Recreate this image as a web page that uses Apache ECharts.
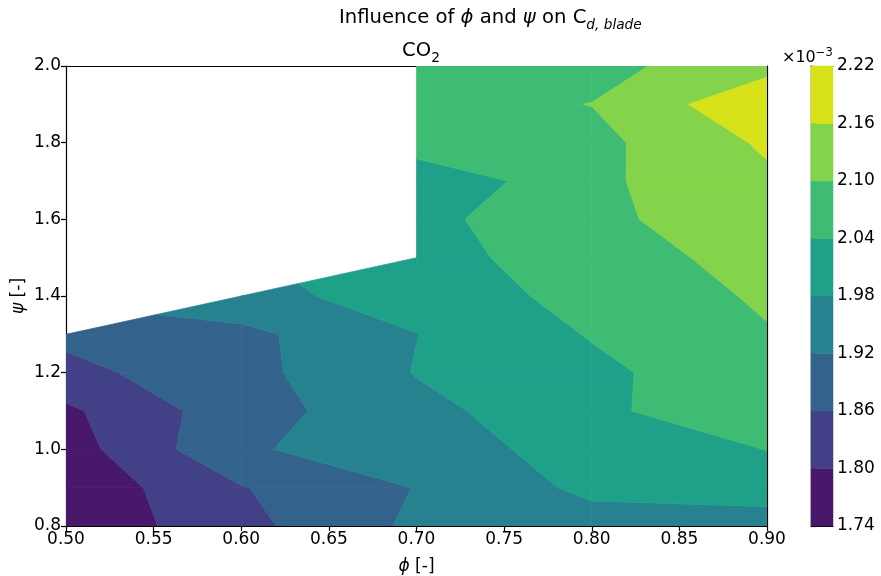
<!DOCTYPE html>
<html>
<head>
<meta charset="utf-8">
<script src="https://cdn.jsdelivr.net/npm/echarts@6/dist/echarts.min.js"></script>
<style>
  html, body { margin: 0; padding: 0; background: #ffffff; }
  #chart { width: 881px; height: 576px; }
</style>
</head>
<body>
<div id="chart"></div>
<script>
// Flow coefficient ϕ (columns) and loading coefficient ψ (rows) of the design grid
const phiValues = [0.5, 0.6, 0.7, 0.8, 0.9];
const psiValues = [0.8, 0.9, 1.0, 1.1, 1.2, 1.3, 1.4, 1.5, 1.6, 1.7, 1.8, 1.9, 2.0];

// Blade dissipation coefficient C_d,blade in units of 1e-3, one row per ψ; null = infeasible design
const cdRow080 = [1.754, 1.842, 1.932, 1.954, 1.950];
const cdRow090 = [1.755, 1.857, 1.922, 1.994, 2.010];
const cdRow100 = [1.772, 1.912, 1.955, 2.001, 2.041];
const cdRow110 = [1.789, 1.895, 1.961, 2.027, 2.084];
const cdRow120 = [1.843, 1.900, 1.983, 2.026, 2.084];
const cdRow130 = [1.874, 1.904, 1.979, 2.044, 2.096];
const cdRow140 = [null, 1.963, 2.003, 2.060, 2.108];
const cdRow150 = [null, null, 2.015, 2.074, 2.120];
const cdRow160 = [null, null, 2.022, 2.087, 2.135];
const cdRow170 = [null, null, 1.988, 2.088, 2.149];
const cdRow180 = [null, null, 2.078, 2.083, 2.169];
const cdRow190 = [null, null, 2.080, 2.101, 2.208];
const cdRow200 = [null, null, 2.070, 2.081, 2.140];
const cdRows = [cdRow080, cdRow090, cdRow100, cdRow110, cdRow120, cdRow130, cdRow140,
                cdRow150, cdRow160, cdRow170, cdRow180, cdRow190, cdRow200];

// Filled contour levels (colorbar ticks)
const contourLevels = [1.74, 1.80, 1.86, 1.92, 1.98, 2.04, 2.10, 2.16, 2.22];
// viridis sampled at the middle of each band
const bandColors = ['#48186a', '#424086', '#33638d', '#26828e', '#1fa088', '#3fbc73', '#84d44b', '#d8e219'];

const FONT = 'DejaVu Sans';
const TICK_SIZE = 17;
const TITLE_SIZE = 19.6;
const SUB_SIZE = 13.7;

// Clip one cell (quad or corner triangle) to the band [lo, hi] by walking its perimeter
function bandPolygon(corners, lo, hi) {
  const out = [];
  const n = corners.length;
  for (let k = 0; k < n; k++) {
    const a = corners[k], b = corners[(k + 1) % n];
    if (a.v >= lo && a.v <= hi) out.push([a.x, a.y]);
    const cuts = [];
    [lo, hi].forEach(L => {
      if ((a.v - L) * (b.v - L) < 0) cuts.push((L - a.v) / (b.v - a.v));
    });
    cuts.sort((p, q) => p - q);
    cuts.forEach(t => out.push([a.x + t * (b.x - a.x), a.y + t * (b.y - a.y)]));
  }
  return out.length >= 3 ? out : null;
}

// Build contour polygons in data space (corner masking: cells with 3 valid corners give a triangle)
const polygons = [];
for (let j = 0; j < psiValues.length - 1; j++) {
  for (let i = 0; i < phiValues.length - 1; i++) {
    const quad = [
      { x: phiValues[i],     y: psiValues[j],     v: cdRows[j][i] },
      { x: phiValues[i + 1], y: psiValues[j],     v: cdRows[j][i + 1] },
      { x: phiValues[i + 1], y: psiValues[j + 1], v: cdRows[j + 1][i + 1] },
      { x: phiValues[i],     y: psiValues[j + 1], v: cdRows[j + 1][i] }
    ];
    const valid = quad.filter(c => c.v !== null);
    if (valid.length < 3) continue;
    for (let b = 0; b < contourLevels.length - 1; b++) {
      const pts = bandPolygon(valid, contourLevels[b], contourLevels[b + 1]);
      if (pts) polygons.push({ band: b, pts: pts });
    }
  }
}
const polygonData = polygons.map((p, idx) => {
  const cx = p.pts.reduce((s, q) => s + q[0], 0) / p.pts.length;
  const cy = p.pts.reduce((s, q) => s + q[1], 0) / p.pts.length;
  return [cx, cy, idx];
});
const colorbarData = bandColors.map((c, b) => [0.5, contourLevels[b], b]);

const chart = echarts.init(document.getElementById('chart'), null, { renderer: 'canvas' });

const lineStyle = { color: '#000', width: 1.2 };
const tickStyle = { color: '#000', width: 1.2 };
const labelStyle = { color: '#000', fontSize: TICK_SIZE, fontFamily: FONT };
const italicRich = { i: { fontStyle: 'italic', fontSize: TICK_SIZE, fontFamily: FONT, color: '#000' } };

const option = {
  animation: false,
  backgroundColor: '#ffffff',
  textStyle: { fontFamily: FONT },
  title: [
    {
      text: 'Influence of {i|ϕ} and {i|ψ} on C{s|d, blade}',
      left: 334, top: -1,
      textStyle: {
        fontFamily: FONT, fontSize: TITLE_SIZE, fontWeight: 'normal', color: '#000', lineHeight: 28,
        rich: {
          i: { fontFamily: FONT, fontSize: TITLE_SIZE, fontStyle: 'italic', color: '#000', lineHeight: 28 },
          s: { fontFamily: FONT, fontSize: SUB_SIZE, fontStyle: 'italic', color: '#000', lineHeight: 15, verticalAlign: 'bottom' }
        }
      }
    },
    {
      text: 'CO{s|2}',
      left: 416, top: 32, textAlign: 'center',
      textStyle: {
        fontFamily: FONT, fontSize: TITLE_SIZE, fontWeight: 'normal', color: '#000', lineHeight: 28,
        rich: {
          s: { fontFamily: FONT, fontSize: SUB_SIZE, color: '#000', lineHeight: 15, verticalAlign: 'bottom' }
        }
      }
    },
    {
      text: '×10{p|−3}',
      left: 777, top: 42,
      textStyle: {
        fontFamily: FONT, fontSize: 16, fontWeight: 'normal', color: '#000', lineHeight: 21,
        rich: {
          p: { fontFamily: FONT, fontSize: 11.5, color: '#000', lineHeight: 12, verticalAlign: 'top' }
        }
      }
    }
  ],
  grid: [
    { left: 66, top: 66, width: 701, height: 460, containLabel: false, outerBoundsMode: 'none' },
    { left: 811, top: 66, width: 22, height: 460, containLabel: false, outerBoundsMode: 'none' }
  ],
  xAxis: [
    {
      type: 'value', gridIndex: 0, position: 'bottom', min: 0.5, max: 0.9, interval: 0.05,
      axisLine: { show: true, lineStyle: lineStyle },
      axisTick: { show: true, inside: false, length: 5, lineStyle: tickStyle },
      axisLabel: Object.assign({ margin: 5, formatter: v => v.toFixed(2) }, labelStyle),
      splitLine: { show: false },
      name: '{i|ϕ} [-]', nameLocation: 'middle', nameGap: 32, nameMoveOverlap: false,
      nameTextStyle: Object.assign({ rich: italicRich }, labelStyle)
    },
    {
      type: 'value', gridIndex: 0, position: 'top', min: 0.5, max: 0.9,
      axisLine: { show: true, lineStyle: lineStyle },
      axisTick: { show: false }, axisLabel: { show: false }, splitLine: { show: false }
    },
    {
      type: 'value', gridIndex: 1, position: 'bottom', min: 0, max: 1,
      axisLine: { show: true, lineStyle: lineStyle },
      axisTick: { show: false }, axisLabel: { show: false }, splitLine: { show: false }
    },
    {
      type: 'value', gridIndex: 1, position: 'top', min: 0, max: 1,
      axisLine: { show: true, lineStyle: lineStyle },
      axisTick: { show: false }, axisLabel: { show: false }, splitLine: { show: false }
    }
  ],
  yAxis: [
    {
      type: 'value', gridIndex: 0, position: 'left', min: 0.8, max: 2.0, interval: 0.2,
      axisLine: { show: true, lineStyle: lineStyle },
      axisTick: { show: true, inside: false, length: 5, lineStyle: tickStyle },
      axisLabel: Object.assign({ margin: 5, formatter: v => v.toFixed(1) }, labelStyle),
      splitLine: { show: false },
      name: '{i|ψ} [-]', nameLocation: 'middle', nameGap: 39, nameRotate: 90, nameMoveOverlap: false,
      nameTextStyle: Object.assign({ rich: italicRich }, labelStyle)
    },
    {
      type: 'value', gridIndex: 0, position: 'right', min: 0.8, max: 2.0,
      axisLine: { show: true, lineStyle: lineStyle },
      axisTick: { show: false }, axisLabel: { show: false }, splitLine: { show: false }
    },
    {
      type: 'value', gridIndex: 1, position: 'right', min: 1.74, max: 2.22, interval: 0.06,
      axisLine: { show: true, lineStyle: lineStyle },
      axisTick: { show: true, inside: false, length: 5, lineStyle: tickStyle },
      axisLabel: Object.assign({ margin: 4, formatter: v => v.toFixed(2) }, labelStyle),
      splitLine: { show: false }
    },
    {
      type: 'value', gridIndex: 1, position: 'left', min: 1.74, max: 2.22,
      axisLine: { show: true, lineStyle: lineStyle },
      axisTick: { show: false }, axisLabel: { show: false }, splitLine: { show: false }
    }
  ],
  series: [
    {
      name: 'contours',
      type: 'custom',
      xAxisIndex: 0, yAxisIndex: 0,
      clip: true,
      z: 1,
      data: polygonData,
      encode: { x: 0, y: 1 },
      renderItem: (params, api) => {
        const poly = polygons[api.value(2)];
        const pts = poly.pts.map(p => api.coord(p));
        const col = bandColors[poly.band];
        return {
          type: 'polygon',
          shape: { points: pts },
          style: { fill: col, stroke: col, lineWidth: 0.7 }
        };
      }
    },
    {
      name: 'colorbar',
      type: 'custom',
      xAxisIndex: 2, yAxisIndex: 2,
      z: 1,
      data: colorbarData,
      encode: { x: 0, y: 1 },
      renderItem: (params, api) => {
        const b = api.value(2);
        const p0 = api.coord([0, contourLevels[b]]);
        const p1 = api.coord([1, contourLevels[b + 1]]);
        return {
          type: 'rect',
          shape: { x: p0[0], y: p1[1], width: p1[0] - p0[0], height: p0[1] - p1[1] },
          style: { fill: bandColors[b], stroke: bandColors[b], lineWidth: 0.5 }
        };
      }
    }
  ]
};

chart.setOption(option);
</script>
</body>
</html>
